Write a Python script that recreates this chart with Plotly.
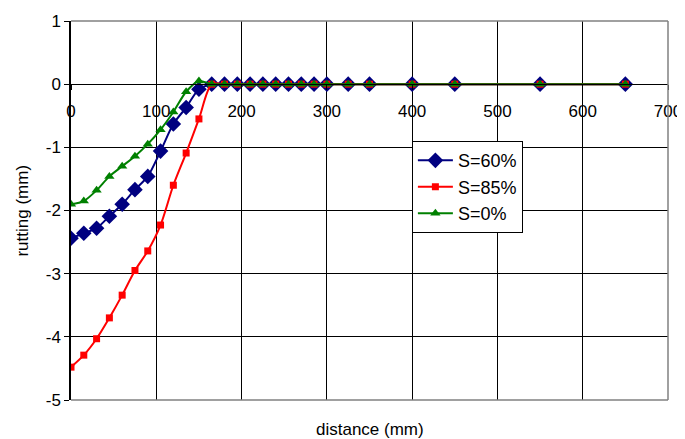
import plotly.graph_objects as go

distance = [0, 15, 30, 45, 60, 75, 90, 105, 120, 135, 150, 165,
            180, 195, 210, 225, 240, 255, 270, 285, 300, 325, 350, 400, 450, 550, 650]
tail = [0.0] * 16

s60 = [-2.44, -2.36, -2.28, -2.09, -1.90, -1.67, -1.46, -1.06, -0.63, -0.37, -0.08] + tail
s85 = [-4.48, -4.29, -4.03, -3.70, -3.34, -2.95, -2.64, -2.23, -1.60, -1.09, -0.55] + tail
s0 = [-1.90, -1.85, -1.68, -1.46, -1.30, -1.14, -0.95, -0.72, -0.44, -0.12, 0.05] + tail

y_ticks = [1, 0, -1, -2, -3, -4, -5]
y_labels = ["1", "0", "-1", "-2", "-3", "-4", "-5"]
x_ticks = [0, 100, 200, 300, 400, 500, 600, 700]
x_labels = ["0", "100", "200", "300", "400", "500", "600", "700"]

FONT = "Liberation Sans, Arial, sans-serif"
FS = 17

fig = go.Figure()
fig.add_trace(go.Scatter(
    x=distance, y=s60, name="S=60%", mode="lines+markers",
    line=dict(color="#000080", width=2, shape="spline", smoothing=0.8),
    marker=dict(symbol="diamond", size=12, color="#000080"),
))
fig.add_trace(go.Scatter(
    x=distance, y=s85, name="S=85%", mode="lines+markers",
    line=dict(color="#FF0000", width=2, shape="spline", smoothing=0.8),
    marker=dict(symbol="square", size=7, color="#FF0000"),
))
fig.add_trace(go.Scatter(
    x=distance, y=s0, name="S=0%", mode="lines+markers",
    line=dict(color="#008000", width=2, shape="spline", smoothing=0.8),
    marker=dict(symbol="triangle-up", size=9, color="#008000"),
))

border = dict(color="#808080", width=1.5)
fig.add_shape(type="line", xref="paper", yref="paper", x0=0, x1=1, y0=1, y1=1, line=border)
fig.add_shape(type="line", xref="paper", yref="paper", x0=1, x1=1, y0=0, y1=1, line=border)
fig.add_shape(type="line", xref="paper", yref="paper", x0=0, x1=1, y0=0, y1=0, line=border)

fig.update_layout(
    width=685, height=439,
    margin=dict(l=63, r=25, t=13, b=47),
    paper_bgcolor="white", plot_bgcolor="white",
    font=dict(family=FONT, size=FS, color="black"),
    showlegend=True,
    legend=dict(x=0.571, y=0.683, xanchor="left", yanchor="top",
                bordercolor="black", borderwidth=1, bgcolor="white",
                font=dict(family=FONT, size=18), itemwidth=35),
    xaxis=dict(range=[0, 700], tickvals=x_ticks, ticktext=x_labels,
               showgrid=True, gridcolor="black", gridwidth=1, zeroline=False,
               showline=True, linecolor="black", linewidth=1,
               ticks="outside", ticklen=5, tickcolor="black",
               ticklabelstandoff=6,
               anchor="free", position=5 / 6, automargin=False),
    yaxis=dict(range=[-5, 1], tickvals=y_ticks, ticktext=y_labels,
               showgrid=True, gridcolor="black", gridwidth=1,
               zeroline=True, zerolinecolor="black", zerolinewidth=1,
               showline=True, linecolor="black", linewidth=1.5,
               ticks="outside", ticklen=5, tickcolor="black",
               layer="below traces", automargin=False),
    annotations=[
        dict(text="distance (mm)", xref="paper", yref="paper",
             x=0.5, y=-0.078, xanchor="center", yanchor="middle",
             showarrow=False, font=dict(family=FONT, size=FS)),
        dict(text="rutting (mm)", xref="paper", yref="paper",
             x=-0.082, y=0.5, xanchor="center", yanchor="middle", textangle=-90,
             showarrow=False, font=dict(family=FONT, size=FS)),
    ],
)

fig.write_html("out.html")
